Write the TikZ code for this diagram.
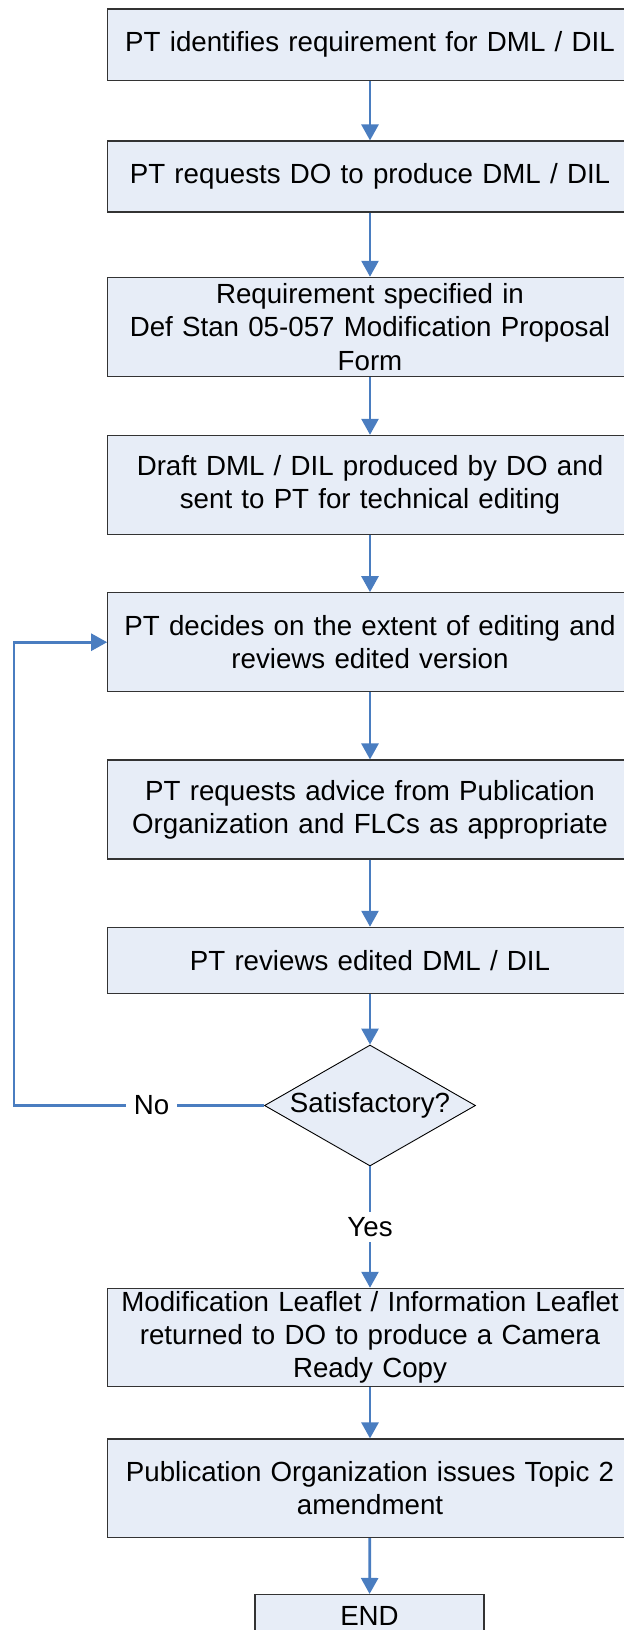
\documentclass[tikz,border=0pt]{standalone}
\usepackage{fontspec}
\setmainfont{Liberation Sans}
\usetikzlibrary{arrows.meta,shapes.geometric}
\definecolor{boxfill}{HTML}{E7EDF7}
\definecolor{conncol}{HTML}{4A7DC0}
\definecolor{boxline}{HTML}{333333}
\begin{document}
\begin{tikzpicture}[x=0.5pt,y=-0.5pt,
  txt/.style={font=\fontsize{13.85}{16.6}\selectfont},
  stepbox/.style={txt,draw=boxline,fill=boxfill,line width=0.55pt,align=center,inner sep=0pt,text width=262.3pt},
  decision/.style={txt,draw=black,fill=boxfill,line width=0.45pt,diamond,aspect=1.744,inner sep=0pt,minimum width=105.5pt,minimum height=60.5pt},
  conn/.style={draw=conncol,line width=1.35pt,-{Triangle[length=8pt,width=8.5pt]}},
  lbl/.style={txt,fill=white,inner xsep=4pt,inner ysep=2.5pt,text=black}]
\path[use as bounding box] (0,0) rectangle (624,1630);
\clip (0,0) rectangle (624,1630);

\node[stepbox,minimum height=35.85pt] (b1) at (370,44.8) {PT identifies requirement for DML / DIL};
\node[stepbox,minimum height=35.5pt] (b2) at (370,176.5) {PT requests DO to produce DML / DIL};
\node[stepbox,minimum height=49.7pt] (b3) at (370,327) {Requirement specified in\\Def Stan 05-057 Modification Proposal\\Form};
\node[stepbox,minimum height=49.35pt] (b4) at (370,484.7) {Draft DML / DIL produced by DO and\\sent to PT for technical editing};
\node[stepbox,minimum height=49.5pt] (b5) at (370,642.2) {PT decides on the extent of editing and\\reviews edited version};
\node[stepbox,minimum height=49.5pt] (b6) at (370,809.5) {PT requests advice from Publication\\Organization and FLCs as appropriate};
\node[stepbox,minimum height=33pt] (b7) at (370,960.3) {PT reviews edited DML / DIL};
\node[decision] (dia) at (370,1105.5) {Satisfactory?};
\node[stepbox,minimum height=49.2pt] (b8) at (370,1337.5) {Modification Leaflet / Information Leaflet\\returned to DO to produce a Camera\\Ready Copy};
\node[stepbox,minimum height=49.35pt] (b9) at (370,1488.3) {Publication Organization issues Topic 2\\amendment};
\node[stepbox,text width=114.5pt,minimum height=21.5pt] (end) at (369.5,1616) {END};

\coordinate (fb) at (14,1105.5);

\draw[conn] (b1) -- (b2);
\draw[conn] (b2) -- (b3);
\draw[conn] (b3) -- (b4);
\draw[conn] (b4) -- (b5);
\draw[conn] (b5) -- (b6);
\draw[conn] (b6) -- (b7);
\draw[conn] (b7) -- (dia);
\draw[conn] (dia) -- node[lbl] {Yes} (b8);
\draw[conn] (b8) -- (b9);
\draw[conn] (b9) -- (end);
\draw[conn] (dia.west) -- node[lbl,pos=0.45] {No} (fb) |- (b5.west);
\end{tikzpicture}
\end{document}
